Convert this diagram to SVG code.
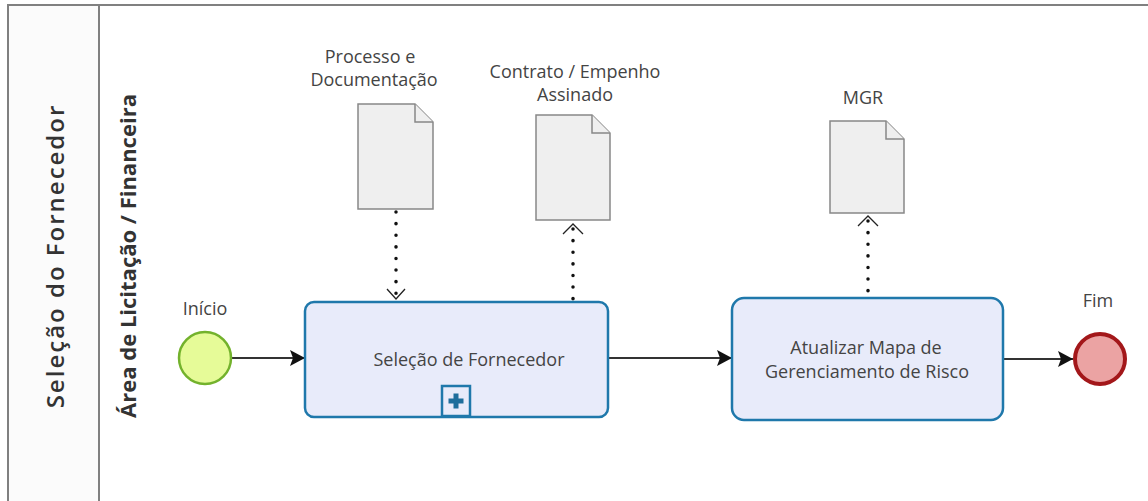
<svg xmlns="http://www.w3.org/2000/svg" width="1148" height="501" viewBox="0 0 1148 501">
  <style>
    .lbl { font-family: "Open Sans", "Liberation Sans", sans-serif; font-size: 18px; fill: #444; text-anchor: middle; }
    .task { fill: #e8ebfa; stroke: #1f78ab; stroke-width: 2.5; }
    .doc { fill: #efefef; stroke: #888; stroke-width: 1.5; }
    .flow { stroke: #333; stroke-width: 1.8; fill: none; }
    .assoc { stroke: #111; stroke-width: 3.5; stroke-dasharray: 0.1 11.5; stroke-linecap: round; fill: none; }
    .vhead { stroke: #222; stroke-width: 1.3; fill: none; }
  </style>
  <defs>
    <marker id="arrow" markerWidth="16" markerHeight="16" refX="15" refY="8" orient="auto" markerUnits="userSpaceOnUse">
      <path d="M0,0 L15,8 L0,16 L3,8 Z" fill="#111"/>
    </marker>
  </defs>
  <rect width="1148" height="501" fill="#ffffff"/>

  <g id="pool">
    <rect x="8" y="5" width="91" height="500" fill="#fbfbfb"/>
    <path d="M8,505 V5 H1150" fill="none" stroke="#808080" stroke-width="2"/>
    <line x1="99" y1="5" x2="99" y2="505" stroke="#808080" stroke-width="2"/>
    <text transform="translate(64,256) rotate(-90)" text-anchor="middle" font-family="'Open Sans', 'Liberation Sans', sans-serif" font-size="24" font-weight="600" letter-spacing="2" fill="#333">Seleção do Fornecedor</text>
  </g>
  <g id="lane">
    <text transform="translate(136,256) rotate(-90)" text-anchor="middle" font-family="'Open Sans', 'Liberation Sans', sans-serif" font-size="22" font-weight="700" fill="#333">Área de Licitação / Financeira</text>
  </g>

  <g id="connectors">
    <line class="flow" x1="232" y1="358" x2="305" y2="358" marker-end="url(#arrow)"/>
    <line class="flow" x1="608" y1="358" x2="732" y2="358" marker-end="url(#arrow)"/>
    <line class="flow" x1="1003" y1="359" x2="1073" y2="359" marker-end="url(#arrow)"/>
    <line class="assoc" x1="396" y1="212" x2="396" y2="296"/>
    <path class="vhead" d="M387,289 L396,299 L405,289"/>
    <line class="assoc" x1="573" y1="229" x2="573" y2="301"/>
    <path class="vhead" d="M563,234 L573,224 L583,234"/>
    <line class="assoc" x1="868" y1="221" x2="868" y2="297"/>
    <path class="vhead" d="M858,226 L868,216 L878,226"/>
  </g>

  <g id="start">
    <circle cx="205" cy="358" r="26" fill="#e6fb98" stroke="#73b22c" stroke-width="2.5"/>
    <text class="lbl" x="205" y="315">Início</text>
  </g>

  <g id="task1">
    <rect class="task" x="305" y="302" width="303" height="115" rx="9"/>
    <text class="lbl" x="469" y="366">Seleção de Fornecedor</text>
    <rect x="442" y="386" width="28" height="30" fill="#e8ebfa" stroke="#1f78ab" stroke-width="2.5"/>
    <path d="M456,393.5 V408.5 M448.5,401 H463.5" stroke="#1f6e9c" stroke-width="5"/>
  </g>

  <g id="doc1">
    <path class="doc" d="M358,104 H415 L433,122 V209 H358 Z"/>
    <path class="doc" d="M415,104 V122 H433" fill="none"/>
    <text class="lbl" x="370" y="63">Processo e</text>
    <text class="lbl" x="374" y="86">Documentação</text>
  </g>

  <g id="doc2">
    <path class="doc" d="M536,115 H592 L610,133 V220 H536 Z"/>
    <path class="doc" d="M592,115 V133 H610" fill="none"/>
    <text class="lbl" x="575" y="78">Contrato / Empenho</text>
    <text class="lbl" x="575" y="101">Assinado</text>
  </g>

  <g id="task2">
    <rect class="task" x="732" y="298" width="271" height="122" rx="12"/>
    <text class="lbl" x="866" y="354">Atualizar Mapa de</text>
    <text class="lbl" x="867" y="378">Gerenciamento de Risco</text>
  </g>

  <g id="doc3">
    <path class="doc" d="M830,121 H886 L904,139 V213 H830 Z"/>
    <path class="doc" d="M886,121 V139 H904" fill="none"/>
    <text class="lbl" x="863" y="104">MGR</text>
  </g>

  <g id="end">
    <circle cx="1100" cy="359" r="25" fill="#eba3a3" stroke="#a3171a" stroke-width="4"/>
    <text class="lbl" x="1098" y="307">Fim</text>
  </g>
</svg>
